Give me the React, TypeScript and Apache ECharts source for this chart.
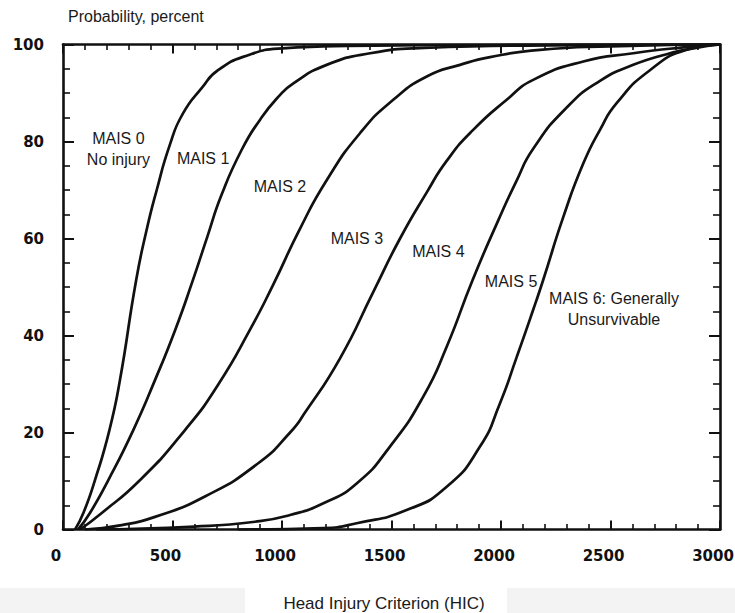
import { useEffect, useRef } from 'react'
import * as echarts from 'echarts'

// HIC / probability (%) points, left to right
const mais0Curve: [number, number][] = [
  [55, 0], [93, 3.4], [146, 10.2], [212, 20.5], [260, 30.8], [334, 51.4],
  [382, 61.8], [428, 70], [487, 79.2], [548, 85.8], [633, 91], [708, 94.7], [845, 97.8],
  [1000, 99.2], [1300, 99.7], [2000, 99.9], [3000, 100],
]
const mais1Curve: [number, number][] = [
  [69, 0], [123, 3.4], [207, 10.2], [321, 20.5], [420, 30.8], [511, 41], [590, 51],
  [660, 60.5], [724, 69], [816, 78.3], [900, 84.5], [983, 89.2], [1052, 92], [1204, 95.8],
  [1402, 98.2], [1650, 99.3], [2200, 99.8], [3000, 100],
]
const mais2Curve: [number, number][] = [
  [78, 0], [177, 3.4], [352, 10.2], [557, 20.5], [709, 29.9], [854, 41.2], [960, 50.5],
  [1082, 62], [1204, 72], [1356, 81.7], [1508, 88.6], [1661, 93.4], [1813, 95.8],
  [1950, 97.4], [2178, 98.9], [2500, 99.6], [3000, 100],
]
const mais3Curve: [number, number][] = [
  [100, 0], [268, 0.9], [420, 2.6], [648, 6.8], [890, 13.6], [1037, 20], [1105, 24.1],
  [1265, 35.3], [1417, 49], [1539, 60], [1661, 69.5], [1752, 76], [1873, 82.4],
  [2026, 88.6], [2147, 92.7], [2376, 96.5], [2604, 98.2], [2832, 99.4], [3000, 100],
]
const mais4Curve: [number, number][] = [
  [150, 0], [600, 0.6], [877, 1.6], [1037, 3], [1189, 5.4], [1341, 9.5], [1493, 17.1],
  [1645, 27.4], [1752, 37.7], [1870, 51.4], [1990, 64], [2072, 72], [2147, 78.5],
  [2300, 87], [2452, 92.5], [2604, 95.8], [2757, 98], [2878, 99.2], [3000, 100],
]
const mais5Curve: [number, number][] = [
  [800, 0], [1189, 0.3], [1341, 1.3], [1569, 4], [1752, 8.8], [1904, 17.1], [1995, 26],
  [2072, 35.6], [2147, 45.3], [2193, 51.5], [2285, 64.5], [2376, 75.5], [2452, 82.4],
  [2528, 87.9], [2680, 94.7], [2848, 98.9], [3000, 100],
]

const curves = [mais0Curve, mais1Curve, mais2Curve, mais3Curve, mais4Curve, mais5Curve]

// region labels, placed in data units
const labelTexts = [
  'MAIS 0\nNo injury',
  'MAIS 1',
  'MAIS 2',
  'MAIS 3',
  'MAIS 4',
  'MAIS 5',
  'MAIS 6: Generally\nUnsurvivable',
]
const labelHic = [253, 640, 991, 1342, 1714, 2046, 2516]
const labelProb = [78.5, 76.4, 70.7, 60.0, 57.3, 51.2, 45.5]

const HIC_MAX = 3000
const HIC_STEP = 500
const PROB_MAX = 100
const PROB_STEP = 20

const INK = '#111'

export default function App() {
  const elRef = useRef<HTMLDivElement>(null)

  useEffect(() => {
    if (!elRef.current) return
    const chart = echarts.init(elRef.current, null, { renderer: 'svg' })

    const frame = (position: string, isX: boolean, showLabel: boolean) => ({
      type: 'value',
      position,
      min: 0,
      max: isX ? HIC_MAX : PROB_MAX,
      interval: isX ? HIC_STEP : PROB_STEP,
      axisLine: { show: true, onZero: false, lineStyle: { color: INK, width: 2.6 } },
      axisTick: { show: true, inside: true, length: isX ? 9 : 11, lineStyle: { color: INK, width: 2 } },
      minorTick: {
        show: true,
        splitNumber: isX ? 5 : 4,
        length: isX ? 5.5 : 7,
        lineStyle: { color: INK, width: 1.6 },
      },
      splitLine: { show: false },
      minorSplitLine: { show: false },
      axisLabel: {
        show: showLabel,
        margin: 19,
        color: INK,
        fontFamily: 'DejaVu Sans',
        fontWeight: 'bold',
        fontSize: 15,
        padding: isX ? [0, 14, 0, 0] : [0, 0, 4, 0],
        formatter: (v: number) => String(v),
      },
    })

    chart.setOption({
      animation: false,
      backgroundColor: '#fff',
      grid: { left: 63, top: 44.5, width: 657, height: 485, outerBoundsMode: 'none' },
      xAxis: [frame('bottom', true, true), frame('top', true, false)],
      yAxis: [frame('left', false, true), frame('right', false, false)],
      series: curves.map((data) => ({
        type: 'line',
        data,
        xAxisIndex: 0,
        yAxisIndex: 0,
        symbol: 'none',
        showSymbol: false,
        smooth: 0.55,
        silent: true,
        z: 3,
        lineStyle: { color: INK, width: 2.7 },
      })),
    })

    // 文字标注: 数据坐标 -> 像素
    const labelEls = labelTexts.map((text, i) => {
      const [px, py] = chart.convertToPixel({ xAxisIndex: 0, yAxisIndex: 0 }, [labelHic[i], labelProb[i]])
      return {
        type: 'text',
        x: px,
        y: py,
        z: 10,
        style: {
          text,
          fill: '#1a1a1a',
          fontFamily: 'Liberation Sans',
          fontSize: 16,
          lineHeight: 21,
          align: 'center',
          verticalAlign: 'middle',
        },
      }
    })

    chart.setOption({
      graphic: [
        { type: 'rect', shape: { x: 0, y: 588, width: 735, height: 25 }, style: { fill: '#f3f3f3' }, z: 0 },
        { type: 'rect', shape: { x: 245, y: 582, width: 262, height: 31 }, style: { fill: '#fff' }, z: 0 },
        {
          type: 'text',
          x: 68,
          y: 16,
          z: 10,
          style: {
            text: 'Probability, percent',
            fill: '#1a1a1a',
            fontFamily: 'Liberation Sans',
            fontSize: 16,
            align: 'left',
            verticalAlign: 'middle',
          },
        },
        {
          type: 'text',
          x: 384,
          y: 603,
          z: 10,
          style: {
            text: 'Head Injury Criterion (HIC)',
            fill: '#1a1a1a',
            fontFamily: 'Liberation Sans',
            fontSize: 17,
            align: 'center',
            verticalAlign: 'middle',
          },
        },
        ...labelEls,
      ],
    })

    return () => {
      chart.dispose()
    }
  }, [])

  return (
    <div
      ref={elRef}
      style={{ position: 'fixed', left: 0, top: 0, width: 735, height: 613, background: '#fff' }}
    />
  )
}
